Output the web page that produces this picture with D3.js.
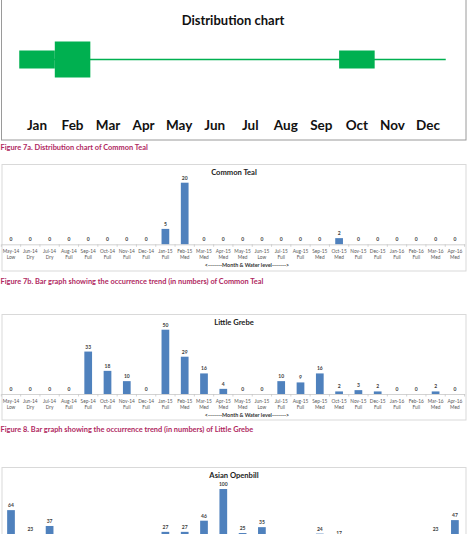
<!DOCTYPE html>
<html><head><meta charset="utf-8">
<script src="https://cdn.jsdelivr.net/npm/d3@7"></script>
<style>
html,body{margin:0;padding:0;background:#fff;overflow:hidden;}
svg{display:block;font-family:Lato,"Open Sans",sans-serif;}
</style></head>
<body>
<svg id="c" width="468" height="534"></svg>
<script>
// ---- data ----
const months = ["Jan","Feb","Mar","Apr","May","Jun","Jul","Aug","Sep","Oct","Nov","Dec"];
const presence = [1,2,0,0,0,0,0,0,0,1,0,0]; // 0 = line, 1 = small block, 2 = large block
const periods = ["May-14","Jun-14","Jul-14","Aug-14","Sep-14","Oct-14","Nov-14","Dec-14","Jan-15","Feb-15","Mar-15","Apr-15",
                 "May-15","Jun-15","Jul-15","Aug-15","Sep-15","Oct-15","Nov-15","Dec-15","Jan-16","Feb-16","Mar-16","Apr-16"];
const waterLevels = ["Low","Dry","Dry","Full","Full","Full","Full","Full","Full","Med","Med","Med",
                     "Med","Low","Full","Full","Med","Med","Full","Full","Full","Full","Med","Med"];
const tealCounts = [0,0,0,0,0,0,0,0,5,20,0,0,0,0,0,0,0,2,0,0,0,0,0,0];
const grebeCounts = [0,0,0,0,33,18,10,0,50,29,16,4,0,0,10,9,16,2,3,2,0,0,2,0];
const openbillCounts = [64,23,37,5,0,8,2,0,27,27,46,100,25,35,6,10,24,17,4,0,9,3,23,47];
const captions = ["Figure 7a. Distribution chart of Common Teal",
                  "Figure 7b. Bar graph showing the occurrence trend (in numbers) of Common Teal",
                  "Figure 8. Bar graph showing the occurrence trend (in numbers) of Little Grebe"];

const W = 468, H = 534;
const svg = d3.select("#c");
const GREEN = "#00B050", BLUE = "#4F81BD", CAP = "#B0285F";

// ---- distribution chart ----
svg.append("rect").attr("x",1.5).attr("y",-5).attr("width",464.5).attr("height",145)
  .attr("fill","none").attr("stroke","#9a9a9a").attr("stroke-width",1);
svg.append("text").attr("x",233).attr("y",24.5).attr("text-anchor","middle")
  .attr("font-size",13).attr("font-weight","bold").attr("fill","#111").text("Distribution chart");
const xm = d3.scaleBand().domain(months).range([19.25,445.75]);
const hm = d3.scaleLinear().domain([0,2]).range([0,36]);
const cy = 59.5;
svg.append("line").attr("x1",xm("Jan")+xm.bandwidth()/2).attr("x2",xm("Dec")+xm.bandwidth())
  .attr("y1",cy).attr("y2",cy).attr("stroke",GREEN).attr("stroke-width",1.6);
svg.selectAll("rect.pres").data(months.map((m,i)=>({m,v:presence[i]})).filter(d=>d.v>0))
  .enter().append("rect").attr("class","pres")
  .attr("x",d=>xm(d.m)).attr("width",xm.bandwidth())
  .attr("y",d=>cy-hm(d.v)/2).attr("height",d=>hm(d.v)).attr("fill",GREEN);
svg.selectAll("text.mon").data(months).enter().append("text").attr("class","mon")
  .attr("x",d=>xm(d)+xm.bandwidth()/2).attr("y",130).attr("text-anchor","middle")
  .attr("font-size",13.5).attr("font-weight","bold").attr("fill","#111").text(d=>d);

// ---- captions ----
function caption(txt,y){
  svg.append("text").attr("x",0.5).attr("y",y).attr("font-size",7.4).attr("font-weight","bold")
    .attr("fill",CAP).text(txt);
}
caption(captions[0],150);
caption(captions[1],283.5);
caption(captions[2],431.5);

// ---- bar charts ----
const x = d3.scaleBand().domain(periods).range([1.35,464.55]).paddingInner(0.6).paddingOuter(0.3);
const visible = yy => yy < H + 1;

function barChart(title, counts, boxTop, boxBottom, baseline, yMax, pxPerUnit){
  const g = svg.append("g");
  g.append("rect").attr("x",2).attr("y",boxTop).attr("width",464).attr("height",boxBottom-boxTop)
    .attr("fill","#fff").attr("stroke","#d9d9d9").attr("stroke-width",1);
  const y = d3.scaleLinear().domain([0,yMax]).range([baseline, baseline - yMax*pxPerUnit]);
  g.append("text").attr("x",234).attr("y",boxTop+10.5).attr("text-anchor","middle")
    .attr("font-size",7.6).attr("font-weight","bold").attr("fill","#222").text(title);
  const data = periods.map((p,i)=>({p,v:counts[i],w:waterLevels[i]}));
  g.selectAll("rect.bar").data(data).enter().append("rect").attr("class","bar")
    .attr("x",d=>x(d.p)).attr("width",x.bandwidth())
    .attr("y",d=>y(d.v)).attr("height",d=>y(0)-y(d.v)).attr("fill",BLUE);
  // axis
  const ax = d3.axisBottom(x).tickSize(0).tickFormat("");
  const axg = g.append("g").attr("transform",`translate(0,${baseline})`).call(ax);
  axg.select(".domain").attr("stroke","#c8c8c8").attr("stroke-width",0.8);
  const bounds = d3.range(periods.length+1).map(i=> i<periods.length ? x(periods[i]) - x.step()*0.3 : x.range()[1]);
  axg.selectAll("line.bt").data(bounds).enter().append("line").attr("class","bt")
    .attr("x1",d=>d).attr("x2",d=>d).attr("y1",0).attr("y2",2.5).attr("stroke","#c8c8c8").attr("stroke-width",0.8);
  // value labels
  g.selectAll("text.val").data(data.filter(d=>visible(y(d.v)-3))).enter().append("text").attr("class","val")
    .attr("x",d=>x(d.p)+x.bandwidth()/2).attr("y",d=>y(d.v)-3).attr("text-anchor","middle")
    .attr("font-size",5).attr("font-weight","bold").attr("fill","#404040").text(d=>d.v);
  // tick labels
  if (visible(baseline+9)) {
    g.selectAll("text.per").data(data).enter().append("text").attr("class","per")
      .attr("x",d=>x(d.p)+x.bandwidth()/2).attr("y",baseline+9).attr("text-anchor","middle")
      .attr("font-size",4.8).attr("fill","#595959").text(d=>d.p);
  }
  if (visible(baseline+14.8)) {
    g.selectAll("text.wl").data(data).enter().append("text").attr("class","wl")
      .attr("x",d=>x(d.p)+x.bandwidth()/2).attr("y",baseline+14.8).attr("text-anchor","middle")
      .attr("font-size",4.8).attr("fill","#595959").text(d=>d.w);
  }
  if (visible(baseline+22.5)) {
    g.append("text").attr("x",247).attr("y",baseline+22.5).attr("text-anchor","middle")
      .attr("font-size",5.4).attr("font-weight","bold").attr("fill","#333")
      .text("<-------Month & Water level------->");
  }
}

barChart("Common Teal", tealCounts, 164.5, 271, 244.3, 25, 3.08);
barChart("Little Grebe", grebeCounts, 314.5, 420, 394, 60, 1.286);
barChart("Asian Openbill", openbillCounts, 467.5, 575, 547.7, 120, 0.587);
</script>
</body></html>
